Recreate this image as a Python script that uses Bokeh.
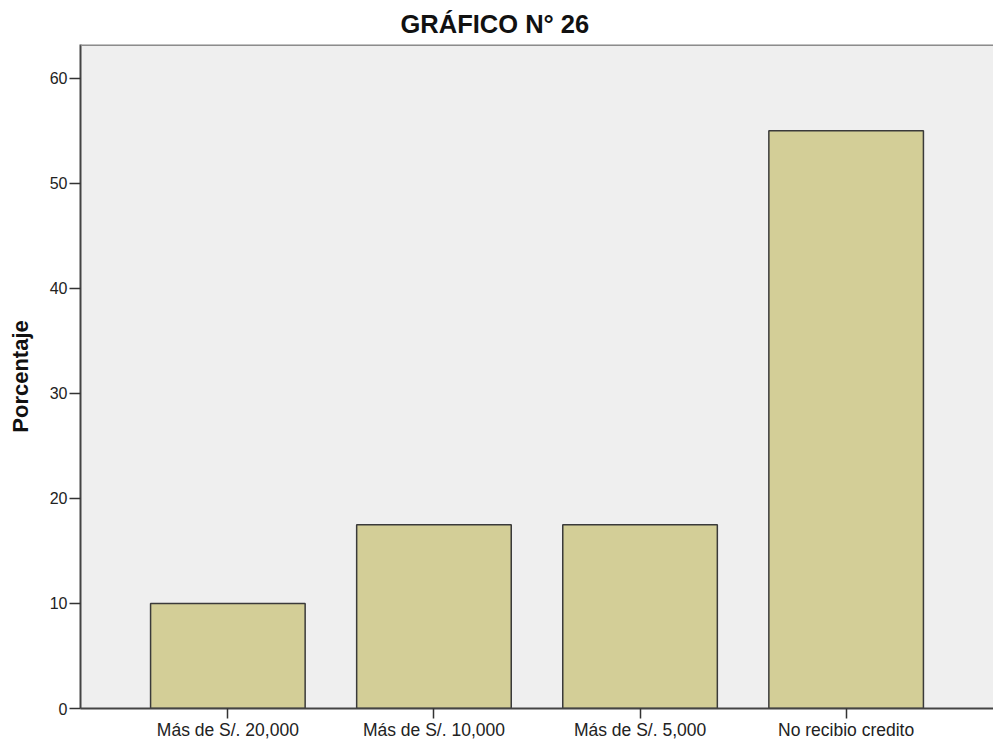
from bokeh.plotting import figure
from bokeh.models import FactorRange, Range1d, Span, SingleIntervalTicker, ColumnDataSource
from bokeh.embed import file_html
from bokeh.resources import INLINE

# ---- data ----
categories = ["Más de S/. 20,000", "Más de S/. 10,000", "Más de S/. 5,000", "No recibio credito"]
porcentaje = [10.0, 17.5, 17.5, 55.0]
title_text = "GRÁFICO N° 26"
y_label = "Porcentaje"
Y_MAX = 63.2
Y_STEP = 10

FONT = "Liberation Sans"

source = ColumnDataSource(dict(cat=categories, pct=porcentaje))

p = figure(
    x_range=FactorRange(factors=categories, range_padding=0.215, range_padding_units="absolute"),
    y_range=Range1d(0, Y_MAX),
    width=993, height=742,
    output_backend="svg", toolbar_location=None,
    min_border_left=80, min_border_right=0, min_border_top=44, min_border_bottom=0,
    background_fill_color="#EFEFEF", border_fill_color="white",
    outline_line_color=None,
)

p.vbar(x="cat", top="pct", width=0.75, source=source,
       fill_color="#D3CE97", line_color="#3a3a3a", line_width=1.5)

p.add_layout(Span(location=Y_MAX, dimension="width", line_color="#8c8c8c", line_width=3))

p.xgrid.visible = False
p.ygrid.visible = False

# title
p.title.text = title_text
p.title.align = "left"
p.title.offset = 320
p.title.standoff = 13
p.title.text_font = FONT
p.title.text_font_size = "25.5px"
p.title.text_font_style = "bold"
p.title.text_color = "#111111"

# y axis
ya = p.yaxis[0]
ya.ticker = SingleIntervalTicker(interval=Y_STEP)
ya.axis_label = y_label
ya.axis_label_text_font = FONT
ya.axis_label_text_font_size = "22px"
ya.axis_label_text_font_style = "bold"
ya.axis_label_text_color = "#111111"
ya.axis_label_standoff = 14
ya.major_label_text_font = FONT
ya.major_label_text_font_size = "16px"
ya.major_label_text_color = "#222222"
ya.major_label_standoff = 2
ya.major_tick_in = 0
ya.major_tick_out = 11
ya.major_tick_line_color = "#333333"
ya.major_tick_line_width = 1.5
ya.minor_tick_line_color = None
ya.axis_line_color = "#444444"
ya.axis_line_width = 2

# x axis
xa = p.xaxis[0]
xa.major_label_text_font = FONT
xa.major_label_text_font_size = "17.5px"
xa.major_label_text_color = "#222222"
xa.major_label_standoff = 1
xa.major_tick_in = 0
xa.major_tick_out = 10
xa.major_tick_line_color = "#333333"
xa.major_tick_line_width = 1.5
xa.axis_line_color = "#444444"
xa.axis_line_width = 2

open("out.html", "w").write(file_html(p, INLINE))
